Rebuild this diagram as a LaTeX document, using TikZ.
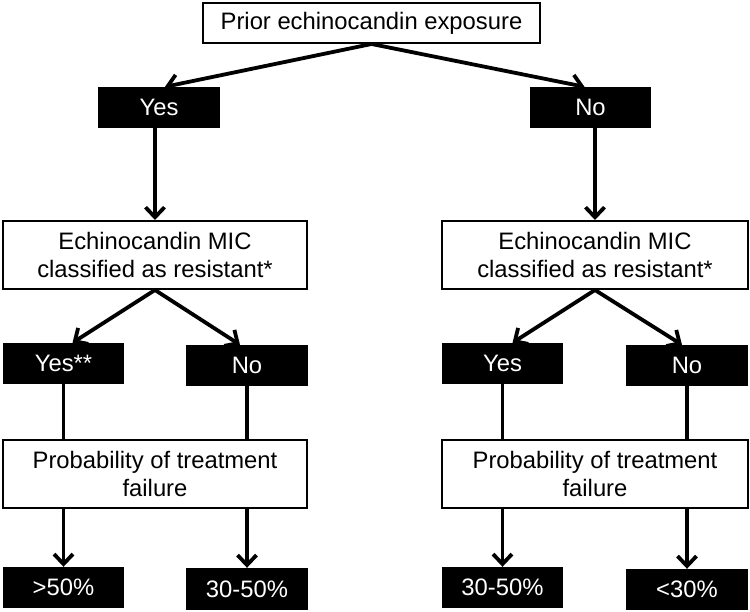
\documentclass[tikz,border=0pt]{standalone}
\usepackage{fontspec}
\setmainfont{Liberation Sans}
\usetikzlibrary{arrows.meta}
\tikzset{
  wbox/.style={draw=black, line width=2pt, fill=white, inner sep=0pt, align=center, font=\fontsize{23.8}{28.5}\selectfont},
  bbox/.style={fill=black, text=white, inner sep=0pt, align=center, font=\fontsize{23.8}{28.5}\selectfont},
  conn/.style={line width=3.8pt, -{Straight Barb[length=10pt,width=19pt]}},
  plain/.style={line width=3.8pt}
}
\begin{document}
\begin{tikzpicture}[x=1pt,y=-1pt]
\useasboundingbox (0,0) rectangle (750,612);
\node[wbox, minimum width=337pt, minimum height=40pt] (top) at (371.5,23) {Prior echinocandin exposure};
\node[bbox, minimum width=122pt, minimum height=41pt] (yes1) at (159,107.5) {Yes};
\node[bbox, minimum width=121pt, minimum height=41pt] (no1) at (590.5,107.5) {No};
\node[wbox, minimum width=304pt, minimum height=68pt] (micL) at (155,255) {Echinocandin MIC\\classified as resistant*};
\node[wbox, minimum width=306pt, minimum height=68pt] (micR) at (595,255) {Echinocandin MIC\\classified as resistant*};
\node[bbox, minimum width=121pt, minimum height=41pt] (yesL) at (63.5,363.5) {Yes**};
\node[bbox, minimum width=122pt, minimum height=41pt] (noL) at (247,365.5) {No};
\node[bbox, minimum width=121pt, minimum height=41pt] (yesR) at (502.5,363.5) {Yes};
\node[bbox, minimum width=122pt, minimum height=41pt] (noR) at (687,365.5) {No};
\node[wbox, minimum width=304pt, minimum height=68pt] (probL) at (155,474) {Probability of treatment\\failure};
\node[wbox, minimum width=306pt, minimum height=68pt] (probR) at (595,474) {Probability of treatment\\failure};
\node[bbox, minimum width=121pt, minimum height=41pt] (b1) at (63.5,587.5) {>50\%};
\node[bbox, minimum width=122pt, minimum height=42pt] (b2) at (247,589) {30-50\%};
\node[bbox, minimum width=121pt, minimum height=41pt] (b3) at (502.5,587.5) {30-50\%};
\node[bbox, minimum width=122pt, minimum height=41pt] (b4) at (687,589.5) {<30\%};
% connectors
\draw[conn] (top.south) -- ([xshift=6pt]yes1.north);
\draw[conn] (top.south) -- ([xshift=-6pt]no1.north);
\draw[conn] (yes1.south -| micL.north) -- (micL.north);
\draw[conn] (no1.south -| micR.north) -- (micR.north);
\draw[conn] (micL.south) -- ([xshift=9pt]yesL.north);
\draw[conn] (micL.south) -- ([xshift=-7pt]noL.north);
\draw[conn] (micR.south) -- ([xshift=10pt]yesR.north);
\draw[conn] (micR.south) -- ([xshift=-5pt]noR.north);
\draw[plain] (yesL.south) -- (yesL.south |- probL.north);
\draw[plain] (noL.south) -- (noL.south |- probL.north);
\draw[plain] (yesR.south) -- (yesR.south |- probR.north);
\draw[plain] (noR.south) -- (noR.south |- probR.north);
\draw[conn] (b1.north |- probL.south) -- (b1.north);
\draw[conn] (b2.north |- probL.south) -- (b2.north);
\draw[conn] (b3.north |- probR.south) -- (b3.north);
\draw[conn] (b4.north |- probR.south) -- (b4.north);
\end{tikzpicture}
\end{document}
